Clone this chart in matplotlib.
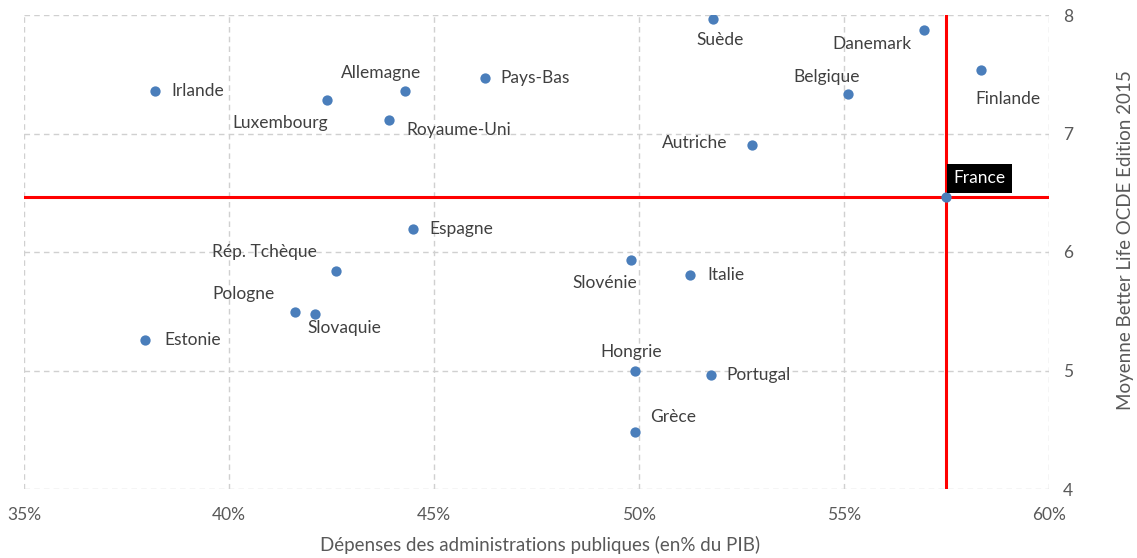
import matplotlib.pyplot as plt

# donnees
pays = ["Suède", "Danemark", "Finlande", "Belgique", "Autriche", "France",
        "Irlande", "Allemagne", "Pays-Bas", "Luxembourg", "Royaume-Uni",
        "Espagne", "Rép. Tchèque", "Slovénie", "Italie", "Pologne",
        "Slovaquie", "Estonie", "Hongrie", "Portugal", "Grèce"]
depenses = [51.8, 56.95, 58.35, 55.1, 52.75, 57.5,
            38.2, 44.3, 46.25, 42.4, 43.9,
            44.5, 42.6, 49.8, 51.25, 41.6,
            42.1, 37.95, 49.9, 51.75, 49.9]
bienetre = [7.97, 7.87, 7.54, 7.33, 6.90, 6.46,
            7.36, 7.36, 7.47, 7.28, 7.11,
            6.19, 5.84, 5.93, 5.81, 5.49,
            5.48, 5.26, 5.00, 4.96, 4.48]

# position des etiquettes (decalage en pixels, alignement)
etiquettes = {
    "Suède": (7, -21, "center"),
    "Danemark": (-12, -14, "right"),
    "Finlande": (27, -29, "center"),
    "Belgique": (-21, 17, "center"),
    "Autriche": (-24, 2, "right"),
    "Irlande": (16, 0, "left"),
    "Allemagne": (-24, 18, "center"),
    "Pays-Bas": (15, 0, "left"),
    "Luxembourg": (1, -23, "right"),
    "Royaume-Uni": (17, -10, "left"),
    "Espagne": (16, 0, "left"),
    "Rép. Tchèque": (-71, 19, "center"),
    "Slovénie": (-26, -23, "center"),
    "Italie": (17, 0, "left"),
    "Pologne": (-51, 18, "center"),
    "Slovaquie": (29, -14, "center"),
    "Estonie": (19, 0, "left"),
    "Hongrie": (-4, 18, "center"),
    "Portugal": (16, 0, "left"),
    "Grèce": (15, 15, "left"),
}

plt.rcParams['font.family'] = ['Lato', 'DejaVu Sans']

fig = plt.figure(figsize=(11.37, 5.58), dpi=100)
ax = fig.add_axes([24 / 1137, 1 - 489 / 558, 1025 / 1137, 474 / 558])

ax.axhline(6.46, color='#FF0000', lw=2.2, zorder=2)
ax.axvline(57.5, color='#FF0000', lw=2.2, zorder=2)
ax.scatter(depenses, bienetre, s=55, color='#4A7EBB', zorder=3, linewidths=0)

for nom, x, y in zip(pays, depenses, bienetre):
    if nom == "France":
        ax.annotate(nom, (x, y), xytext=(7, 19), textcoords='offset pixels',
                    ha='left', va='center', fontsize=12.5, color='white',
                    bbox=dict(boxstyle='square,pad=0.35', fc='black', ec='none'),
                    zorder=4)
        continue
    dx, dy, ha = etiquettes[nom]
    ax.annotate(nom, (x, y), xytext=(dx, dy), textcoords='offset pixels',
                ha=ha, va='center', fontsize=12.5, color='#404040')

ax.set_xlim(35, 60)
ax.set_ylim(4, 8)
ax.set_xticks([35, 40, 45, 50, 55, 60])
ax.set_xticklabels(["35%", "40%", "45%", "50%", "55%", "60%"])
ax.set_yticks([4, 5, 6, 7, 8])
ax.yaxis.tick_right()
ax.yaxis.set_label_position('right')
ax.tick_params(axis='x', length=0, pad=13, labelsize=12.5, labelcolor='#595959')
ax.tick_params(axis='y', length=0, pad=10, labelsize=12.5, labelcolor='#595959')
ax.grid(True, color='#D0D0D0', linestyle=(0, (4, 3)), lw=1, zorder=0)
ax.set_axisbelow(True)
for s in ax.spines.values():
    s.set_visible(False)

ax.set_xlabel("Dépenses des administrations publiques (en% du PIB)",
              fontsize=13.5, color='#595959')
ax.xaxis.set_label_coords(0.503, -0.098)
ax.set_ylabel("Moyenne Better Life OCDE Edition 2015", fontsize=13.5,
              color='#595959', rotation=90)
ax.yaxis.set_label_coords(1.066, 0.525)

plt.savefig("out.png", dpi=100)
